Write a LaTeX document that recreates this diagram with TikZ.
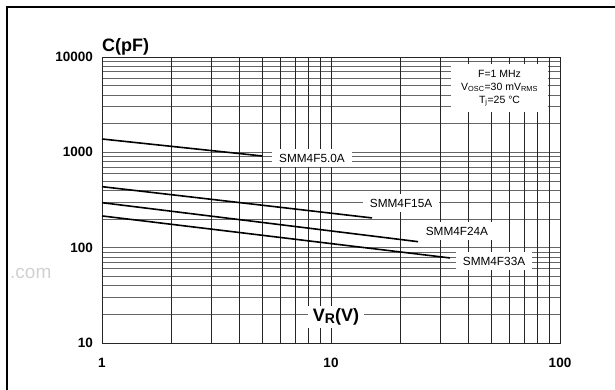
\documentclass[tikz,border=0pt]{standalone}
\usepackage{fontspec}
\setmainfont{Liberation Sans}
\usetikzlibrary{positioning}

\tikzset{
  vline/.style={black!85, line width=0.8pt},
  hline/.style={black!60, line width=0.8pt},
  curve/.style={black, line width=1.6pt},
  tag/.style={fill=white, inner xsep=7pt, inner ysep=5pt, font=\fontsize{11.8}{13}\selectfont},
  ticklab/.style={font=\bfseries\fontsize{13.5}{15}\selectfont, inner sep=0pt},
}

\begin{document}
\begin{tikzpicture}[x=1pt,y=-1pt]
  \useasboundingbox (0,0) rectangle (615,390);
  % watermark and outer frame
  \node[anchor=base west, inner sep=0pt, text=black!18, font=\fontsize{19}{20}\selectfont] (wm) at (10,278) {.com};
  \draw[line width=2.3pt] (7,390) -- (7,7) -- (615,7);

  \begin{scope}[shift={(102,343)}, x=229pt, y=95.33pt]
    % log grid
    \foreach \d in {0,1,2} \foreach \m in {1,...,9}
      \draw[hline] (0,{\d+ln(\m)/ln(10)}) -- (2,{\d+ln(\m)/ln(10)});
    \foreach \d in {0,1} \foreach \m in {1,...,9}
      \draw[vline] ({\d+ln(\m)/ln(10)},0) -- ({\d+ln(\m)/ln(10)},3);
    \draw[vline] (0,0) rectangle (2,3);

    % capacitance curves
    \draw[curve] (0,2.140) coordinate (s5a) -- (0.699,1.962) coordinate (s5b);
    \draw[curve] (0,1.640) coordinate (s15a) -- (1.179,1.312) coordinate (s15b);
    \draw[curve] (0,1.472) coordinate (s24a) -- (1.380,1.063) coordinate (s24b);
    \draw[curve] (0,1.333) coordinate (s33a) -- (1.520,0.892) coordinate (s33b);

    \node[tag] (l5)  at (0.917,1.941) {SMM4F5.0A};
    \node[tag] (l15) at (1.306,1.469) {SMM4F15A};
    \node[tag] (l24) at (1.550,1.175) {SMM4F24A};
    \node[tag] (l33) at (1.712,0.860) {SMM4F33A};

    \node[tag, align=center, inner xsep=10pt, inner ysep=6pt, font=\fontsize{10.5}{13}\selectfont] (cond) at (1.736,2.675)
      {F=1 MHz\\V\textsubscript{OSC}=30 mV\textsubscript{RMS}\\T\textsubscript{j}=25 °C};
    \node[tag, inner xsep=5pt, inner ysep=3pt, font=\bfseries\fontsize{18}{20}\selectfont] (vr) at (1.022,0.273)
      {V{\fontsize{14}{14}\selectfont\raisebox{-2pt}{R}}(V)};

    % axis numbers
    \foreach \v [count=\i from 0] in {10,100,1000,10000}
      \node[ticklab, anchor=east, xshift=-9pt] (cy\i) at (0,\i) {\v};
    \foreach \v [count=\i from 0] in {1,10,100}
      \node[ticklab, yshift=-20pt] (cx\i) at (\i,0) {\v};
  \end{scope}

  \node[anchor=base west, inner sep=0pt, font=\bfseries\fontsize{18}{20}\selectfont] (cap) at (102,52) {C(pF)};
\end{tikzpicture}
\end{document}
